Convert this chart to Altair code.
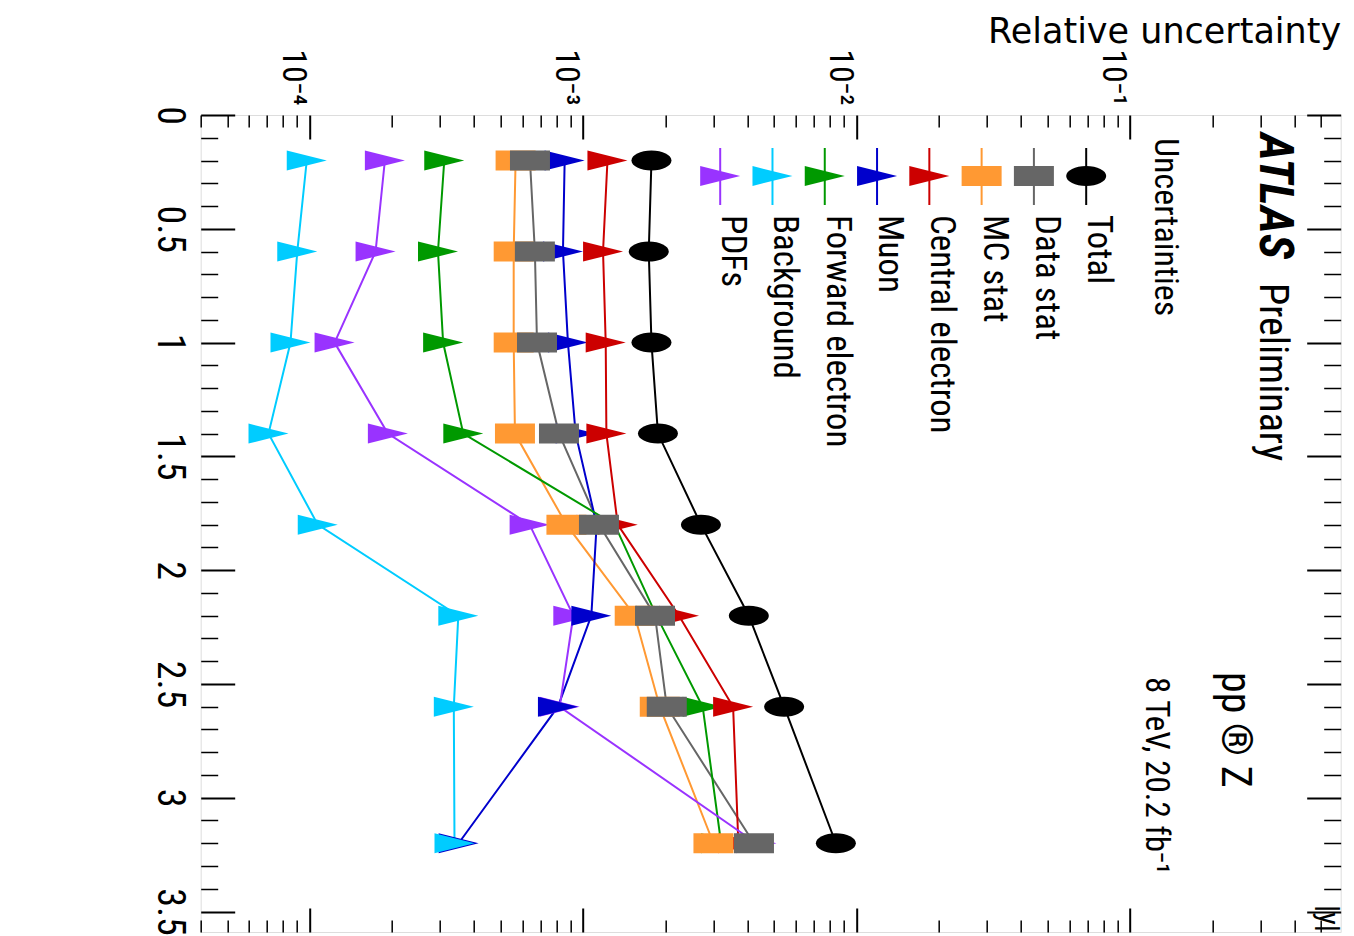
import altair as alt
import pandas as pd

# ---------------- data ----------------
abs_y = [0.2, 0.6, 1.0, 1.4, 1.8, 2.2, 2.6, 3.2]

series_names = ["Total", "Data stat", "MC stat", "Central electron",
                "Muon", "Forward electron", "Background", "PDFs"]

total = [1.78e-3, 1.74e-3, 1.78e-3, 1.88e-3, 2.70e-3, 4.04e-3, 5.44e-3, 8.41e-3]
data_stat = [6.40e-4, 6.67e-4, 6.79e-4, 8.17e-4, 1.144e-3, 1.834e-3, 2.025e-3, 4.22e-3]
mc_stat = [5.67e-4, 5.58e-4, 5.58e-4, 5.64e-4, 8.70e-4, 1.546e-3, 1.909e-3, 3.00e-3]
central_electron = [1.229e-3, 1.184e-3, 1.211e-3, 1.218e-3, 1.340e-3, 2.245e-3, 3.54e-3, 3.70e-3]
muon = [8.57e-4, 8.45e-4, 8.81e-4, 9.40e-4, 1.122e-3, 1.073e-3, 8.10e-4, 3.51e-4]
forward_electron = [3.11e-4, 2.95e-4, 3.08e-4, 3.65e-4, 1.306e-3, 1.856e-3, 2.74e-3, 3.20e-3]
background = [9.77e-5, 9.02e-5, 8.52e-5, 7.08e-5, 1.072e-4, 3.50e-4, 3.37e-4, 3.39e-4]
pdfs = [1.886e-4, 1.744e-4, 1.235e-4, 1.934e-4, 6.38e-4, 9.22e-4, 8.22e-4, 4.31e-3]

series_values = [total, data_stat, mc_stat, central_electron,
                 muon, forward_electron, background, pdfs]

x_major = [1e-4, 1e-3, 1e-2, 1e-1]
x_tick_labels = ["10⁻⁴", "10⁻³", "10⁻²", "10⁻¹"]
y_major = [0, 0.5, 1, 1.5, 2, 2.5, 3, 3.5]

x_title = "Relative uncertainty"
y_title = "|y|"
legend_header = "Uncertainties"
atlas_text = "ATLAS"
prelim_text = "Preliminary"
process_text = "pp ® Z"
energy_text = "8 TeV, 20.2 fb⁻¹"

# ---------------- styles ----------------
colors = ["#000000", "#666666", "#ff9933", "#cc0000",
          "#0000cc", "#009900", "#00ccff", "#9933ff"]
ELLIPSE = "M -1 0 A 1 0.5 0 1 0 1 0 A 1 0.5 0 1 0 -1 0 Z"
RECT = "M -1 -0.5 L 1 -0.5 L 1 0.5 L -1 0.5 Z"
TRI = "M -1 -0.5 L 1 0 L -1 0.5 Z"
shapes = [ELLIPSE, RECT, RECT, TRI, TRI, TRI, TRI, TRI]
# drawing order of the markers (low first): PDFs, Muon, Background, Forward, Central, MC, Data, Total
draw_rank = [8, 7, 6, 5, 2, 4, 3, 1]

NARROW = "Roboto Condensed, Liberation Sans Narrow, Liberation Sans, sans-serif"
WIDE = "DejaVu Sans, Liberation Sans, sans-serif"

W, H = 1140, 817
X_DOMAIN = [4e-5, 0.59]
Y_DOMAIN = [0, 3.59]

x_minor = [m * 10 ** e for e in range(-5, 0) for m in range(2, 10)
           if X_DOMAIN[0] <= m * 10 ** e <= X_DOMAIN[1]]
y_minor = [round(0.1 * i, 1) for i in range(1, 36) if i % 5 != 0]

rows = []
for name, vals, rk in zip(series_names, series_values, draw_rank):
    for a, v in zip(abs_y, vals):
        rows.append({"series": name, "absy": a, "value": v, "draw": rk})
df = pd.DataFrame(rows)

xscale = alt.Scale(type="log", domain=X_DOMAIN, nice=False)
yscale = alt.Scale(domain=Y_DOMAIN, reverse=True, nice=False, zero=False)

color_enc = alt.Color("series:N", scale=alt.Scale(domain=series_names, range=colors), legend=None)
shape_enc = alt.Shape("series:N", scale=alt.Scale(domain=series_names, range=shapes), legend=None)


def tick_axis(orient, offset, values, size, width):
    return alt.Axis(orient=orient, offset=offset, values=values, tickSize=size,
                    tickWidth=width, tickColor="black", labels=False, domain=False,
                    grid=False, title=None, ticks=True)


label_expr = " : ".join(
    [f"datum.value < {v * 3} ? '{t}'" for v, t in zip(x_major[:-1], x_tick_labels[:-1])]
) + f" : '{x_tick_labels[-1]}'"

ax_top_labels = alt.Axis(
    orient="top", values=x_major, labelExpr=label_expr, labelAngle=90,
    labelAlign="right", labelBaseline="top", labelPadding=10, labelFont=NARROW,
    labelFontSize=34, labelColor="black", labelFlush=False, labelOverlap=False,
    ticks=False, domain=False, grid=False,
    title=x_title, titleFont=WIDE, titleFontSize=35, titleFontWeight="normal",
    titleColor="black", titleAnchor="end", titleAlign="right",
    titleBaseline="alphabetic", titleAngle=0, titleX=W, titleY=-73)

ax_left_labels = alt.Axis(
    orient="left", values=y_major, format="~g", labelAngle=90, labelAlign="center",
    labelBaseline="top", labelPadding=13, labelFont=NARROW, labelFontSize=38,
    labelColor="black", labelFlush=False, labelOverlap=False,
    ticks=False, domain=False, grid=False, title=None)


def xe(axis):
    return alt.X("value:Q", scale=xscale, axis=axis)


def ye(axis):
    return alt.Y("absy:Q", scale=yscale, axis=axis)


base = alt.Chart(df)

lines = base.mark_line(strokeWidth=2).encode(
    x=xe(ax_top_labels), y=ye(ax_left_labels), color=color_enc,
    order=alt.Order("absy:Q"))

points = base.mark_point(filled=True, size=1600, opacity=1, strokeWidth=0).encode(
    x=xe(tick_axis("bottom", -H, x_major, 24, 2)),
    y=ye(tick_axis("right", -W, y_major, 34, 2)),
    color=color_enc, shape=shape_enc, order=alt.Order("draw:Q"))

inv1 = base.mark_point(opacity=0).encode(
    x=xe(tick_axis("bottom", -H, x_minor, 12, 1.5)),
    y=ye(tick_axis("right", -W, y_minor, 17, 1.5)))
inv2 = base.mark_point(opacity=0).encode(
    x=xe(tick_axis("top", -H, x_major, 24, 2)),
    y=ye(tick_axis("left", -W, y_major, 34, 2)))
inv3 = base.mark_point(opacity=0).encode(
    x=xe(tick_axis("top", -H, x_minor, 12, 1.5)),
    y=ye(tick_axis("left", -W, y_minor, 17, 1.5)))

main = alt.layer(lines, points, inv1, inv2, inv3)

# ---------------- legend ----------------
leg = pd.DataFrame({"series": series_names, "slot": list(range(len(series_names)))})
lx = alt.X("slot:Q", scale=alt.Scale(domain=[0, len(series_names) - 1], range=[885.5, 519.5],
                                     nice=False, zero=False), axis=None)
leg_rule = alt.Chart(leg).mark_rule(strokeWidth=2).encode(
    x=lx, y=alt.value(33), y2=alt.value(90), color=color_enc)
leg_pts = alt.Chart(leg).mark_point(filled=True, size=1600, opacity=1, strokeWidth=0).encode(
    x=lx, y=alt.value(61), color=color_enc, shape=shape_enc)
leg_txt = alt.Chart(leg).mark_text(
    angle=90, align="left", baseline="alphabetic", font=NARROW, fontSize=35,
    color="black", dy=-2).encode(x=lx, y=alt.value(100), text="series:N")

legend = alt.layer(leg_rule, leg_pts, leg_txt)


def note(text, x, y, size, weight="normal", style="normal", font=NARROW):
    return alt.Chart(pd.DataFrame({"t": [text]})).mark_text(
        angle=90, align="left", baseline="alphabetic", font=font, fontSize=size,
        fontWeight=weight, fontStyle=style, color="black").encode(
        x=alt.value(x), y=alt.value(y), text="t:N")


notes = [
    note(atlas_text, 1059, 18, 48, weight="bold", style="italic"),
    note(prelim_text, 1059, 168, 40),
    note(legend_header, 954, 23, 34),
    note(process_text, 1021, 557, 42),
    note(energy_text, 945, 562, 33),
    note(y_title, 1118, 790, 30),
]

chart = alt.layer(main, legend, *notes).resolve_scale(x="independent").properties(
    width=W, height=H,
    padding={"left": 192.7, "top": 107, "right": 5, "bottom": 3},
    autosize=alt.AutoSizeParams(type="none"),
).configure_view(stroke="black", strokeWidth=3).configure(background="white")

chart.save("out.html", embed_options={"renderer": "svg", "actions": False})
